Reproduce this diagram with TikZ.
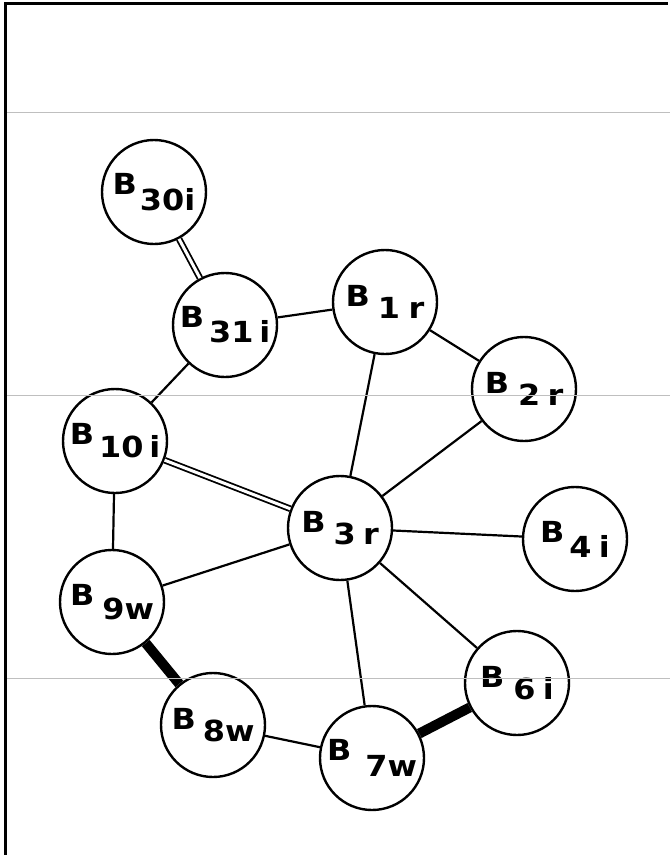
\documentclass[tikz,border=0pt]{standalone}
\usepackage{fontspec}
\setmainfont{Liberation Sans}
\newfontfamily\labfont[FakeStretch=1.1]{DejaVu Sans}
\newcommand{\blab}[4]{\textbf{#1}\hspace{#3}\raisebox{-#4}{\textbf{#2}}}
\begin{document}
\begin{tikzpicture}[x=1pt,y=-1pt,
  atom/.style={circle,draw,line width=2.4pt,minimum size=104pt,inner sep=0pt,
    font=\labfont\fontsize{29}{32}\selectfont},
  single/.style={line width=2.2pt},
  dbl/.style={double,double distance=3pt,line width=1.8pt},
  thickbond/.style={line width=10pt},
  frame/.style={line width=3pt},
  guide/.style={line width=1pt,black!25}]
\useasboundingbox (0,0) rectangle (670,855);
% frame
\coordinate (fbl) at (5,855);
\coordinate (ftl) at (5,3);
\coordinate (ftr) at (668,3);
\draw[frame] (fbl) -- (ftl) -- (ftr);
% atoms
\node[atom] (b30) at (154,192) {\blab{B}{30i}{3pt}{16pt}};
\node[atom] (b31) at (225,325) {\blab{B}{31\hspace{0.2em}i}{5pt}{15pt}};
\node[atom] (b1)  at (385,302) {\blab{B}{1\hspace{0.3em}r}{8pt}{12pt}};
\node[atom] (b2)  at (524,389) {\blab{B}{2\hspace{0.25em}r}{9pt}{12pt}};
\node[atom] (b10) at (115,441) {\blab{B}{10\hspace{0.2em}i}{5pt}{13pt}};
\node[atom] (b3)  at (340,528) {\blab{B}{3\hspace{0.25em}r}{8pt}{12pt}};
\node[atom] (b4)  at (575,539) {\blab{B}{4\hspace{0.25em}i}{5pt}{15pt}};
\node[atom] (b9)  at (112,602) {\blab{B}{9w}{8pt}{14pt}};
\node[atom] (b8)  at (213,725) {\blab{B}{8w}{7pt}{12pt}};
\node[atom] (b7)  at (372,758) {\blab{B}{7w}{14pt}{16pt}};
\node[atom] (b6)  at (517,683) {\blab{B}{6\hspace{0.25em}i}{9pt}{12pt}};
% bonds
\draw[dbl] (b30) -- (b31);
\draw[single] (b31) -- (b1);
\draw[single] (b31) -- (b10);
\draw[single] (b1) -- (b2);
\draw[single] (b1) -- (b3);
\draw[single] (b2) -- (b3);
\draw[dbl] (b10) -- (b3);
\draw[single] (b10) -- (b9);
\draw[single] (b3) -- (b9);
\draw[single] (b3) -- (b4);
\draw[single] (b3) -- (b6);
\draw[single] (b3) -- (b7);
\draw[thickbond] (b9) -- (b8);
\draw[single] (b8) -- (b7);
\draw[thickbond] (b7) -- (b6);
% faint horizontal guide lines
\coordinate (g1l) at (7,112);  \coordinate (g1r) at (670,112);
\coordinate (g2l) at (7,395);  \coordinate (g2r) at (670,395);
\coordinate (g3l) at (7,678);  \coordinate (g3r) at (670,678);
\draw[guide] (g1l) -- (g1r);
\draw[guide] (g2l) -- (g2r);
\draw[guide] (g3l) -- (g3r);
\end{tikzpicture}
\end{document}
